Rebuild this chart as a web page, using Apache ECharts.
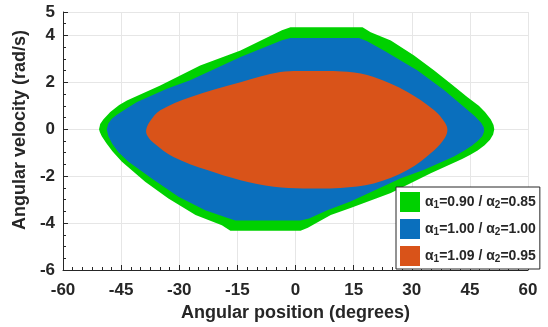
<!DOCTYPE html>
<html>
<head>
<meta charset="utf-8">
<script src="https://cdn.jsdelivr.net/npm/echarts@6/dist/echarts.min.js"></script>
<style>html,body{margin:0;padding:0;background:#fff;}#c{width:548px;height:327px;}</style>
</head>
<body>
<div id="c"></div>
<script>
// ---- data (angular position in degrees, angular velocity in rad/s) ----
var xTicks = [-60, -45, -30, -15, 0, 15, 30, 45, 60];
var yTicks = [-6, -4, -2, 0, 2, 4, 5];
var alpha1 = ['0.90', '1.00', '1.09'];
var alpha2 = ['0.85', '1.00', '0.95'];
var colors = ['#00d100', '#0a6fbd', '#d95319'];

var greenRegion = [
  [-50.7, 0], [-50.4, 0.22], [-49.6, 0.42], [-47.8, 0.74], [-45.5, 1.04], [-43.5, 1.23], [-34.9, 1.87],
  [-24.6, 2.72], [-14.2, 3.36], [-3.5, 4.22], [-1.3, 4.35], [17.3, 4.35], [19.4, 4.14], [24.6, 3.79],
  [30.6, 3.15], [35.8, 2.51], [40.1, 1.94], [44.4, 1.37], [47.3, 1.0], [48.9, 0.74], [50.4, 0.42],
  [51.1, 0.18], [51.3, 0.0], [51.0, -0.22], [50.2, -0.45], [48.8, -0.68], [47.0, -0.9], [45.0, -1.1], [43.0, -1.27],
  [34.9, -1.87], [24.6, -2.72], [14.2, -3.36], [9.1, -3.65], [5.6, -3.97], [3.2, -4.2], [1.3, -4.33],
  [-16.8, -4.33], [-19.0, -4.09], [-25.8, -3.66], [-32.8, -2.95], [-38.8, -2.24],
  [-44.8, -1.39], [-47.2, -0.95], [-48.8, -0.6], [-50.0, -0.3], [-50.5, -0.12]
];
var blueRegion = [
  [-48.7, 0], [-48.3, 0.25], [-47.4, 0.45], [-46.1, 0.62], [-43.5, 0.9], [-40.9, 1.16], [-33.2, 1.73],
  [-27.2, 2.09], [-14.2, 3.08], [-3.5, 3.8], [-1.3, 3.89], [16.4, 3.89], [18.5, 3.75], [22.8, 3.36], [31.5, 2.51],
  [38.4, 1.66], [43.5, 0.95], [46.3, 0.55], [47.9, 0.28], [48.6, 0.08], [48.7, -0.08], [48.2, -0.3],
  [47.0, -0.5], [45.5, -0.7], [43.5, -0.92], [40.9, -1.16], [33.2, -1.73], [27.2, -2.09], [14.2, -3.08],
  [8.2, -3.45], [3.5, -3.8], [1.3, -3.89], [-15.5, -3.89], [-17.5, -3.78], [-23.3, -3.45], [-30.2, -2.88], [-37.1, -2.1],
  [-43.1, -1.39], [-45.7, -0.98], [-47.3, -0.62], [-48.3, -0.3]
];
var orangeRegion = [
  [-38.5, 0], [-37.5, 0.35], [-34.9, 0.81], [-27.2, 1.37], [-14.2, 2.01], [-3.9, 2.44],
  [5.0, 2.48], [13.4, 2.45], [20.2, 2.23], [28.9, 1.59], [35.8, 0.81], [38.5, 0.3],
  [39.2, 0], [38.6, -0.35], [35.8, -0.89], [28.9, -1.74], [20.2, -2.31], [11.6, -2.5],
  [2.0, -2.52], [-5.6, -2.45], [-14.2, -2.17], [-22.8, -1.74], [-31.5, -1.18],
  [-36.5, -0.6], [-38.3, -0.25]
];
var regions = [greenRegion, blueRegion, orangeRegion];
var smoothness = [0, 0, 0.35];

// ---- chart ----
var font = "'Liberation Sans', Arial, Helvetica, sans-serif";
var dark = '#262626';
var names = alpha1.map(function (a, i) { return 'a' + i; });

function legendText(name) {
  var i = names.indexOf(name);
  return '{a|α}{s|1}{a|=' + alpha1[i] + ' / α}{s|2}{a|=' + alpha2[i] + '}';
}

function polySeries(i) {
  var pts = regions[i];
  return {
    type: 'custom',
    name: names[i],
    coordinateSystem: 'cartesian2d',
    itemStyle: { color: colors[i] },
    silent: true,
    z: 2 + i,
    data: pts,
    renderItem: function (params, api) {
      if (params.dataIndex !== 0) return null;
      var p = pts.map(function (d) { return api.coord(d); });
      return {
        type: 'polygon',
        shape: { points: p, smooth: smoothness[i] },
        style: { fill: colors[i], stroke: null }
      };
    }
  };
}

var chart = echarts.init(document.getElementById('c'), null, { renderer: 'canvas' });
chart.setOption({
  animation: false,
  backgroundColor: '#fff',
  grid: { left: 63, right: 20, top: 12, bottom: 57, containLabel: false },
  xAxis: {
    type: 'value', min: xTicks[0], max: xTicks[xTicks.length - 1], interval: xTicks[1] - xTicks[0],
    name: 'Angular position (degrees)', nameLocation: 'middle', nameGap: 31,
    nameTextStyle: { fontFamily: font, fontSize: 18, fontWeight: 'bold', color: dark },
    axisLine: { show: true, onZero: false, lineStyle: { color: dark, width: 1 } },
    axisTick: { show: true, inside: true, length: 5, lineStyle: { color: dark } },
    minorTick: { show: true, splitNumber: 6, length: 3, lineStyle: { color: dark } },
    splitLine: { show: true, lineStyle: { color: '#e6e6e6', width: 1 } },
    axisLabel: { fontFamily: font, fontSize: 17, fontWeight: 'bold', color: dark, margin: 12 }
  },
  yAxis: {
    type: 'value', min: yTicks[0], max: yTicks[yTicks.length - 1], interval: 2,
    name: 'Angular velocity (rad/s)', nameLocation: 'middle', nameGap: 27, nameRotate: 90,
    nameTextStyle: { fontFamily: font, fontSize: 18, fontWeight: 'bold', color: dark, padding: [0, 0, 0, 22] },
    axisLine: { show: true, onZero: false, lineStyle: { color: dark, width: 1 } },
    axisTick: { show: true, inside: true, length: 5, lineStyle: { color: dark } },
    minorTick: { show: true, splitNumber: 4, length: 3, lineStyle: { color: dark } },
    splitLine: { show: true, lineStyle: { color: '#e6e6e6', width: 1 } },
    axisLabel: { fontFamily: font, fontSize: 17, fontWeight: 'bold', color: dark, margin: 8,
      showMaxLabel: true }
  },
  legend: {
    data: names,
    orient: 'vertical', left: 396, top: 187,
    itemWidth: 20, itemHeight: 20, itemGap: 7,
    padding: [5, 4, 3, 4],
    borderColor: dark, borderWidth: 1, borderRadius: 0, backgroundColor: '#fff',
    icon: 'rect',
    selectedMode: false,
    formatter: legendText,
    textStyle: {
      fontFamily: font, color: dark,
      rich: {
        a: { fontFamily: font, fontSize: 14, fontWeight: 'bold', color: dark, lineHeight: 16 },
        s: { fontFamily: font, fontSize: 10, fontWeight: 'bold', color: dark, lineHeight: 11, padding: [7, 0, 0, 0] }
      }
    }
  },
  series: [polySeries(0), polySeries(1), polySeries(2)]
});
</script>
</body>
</html>
